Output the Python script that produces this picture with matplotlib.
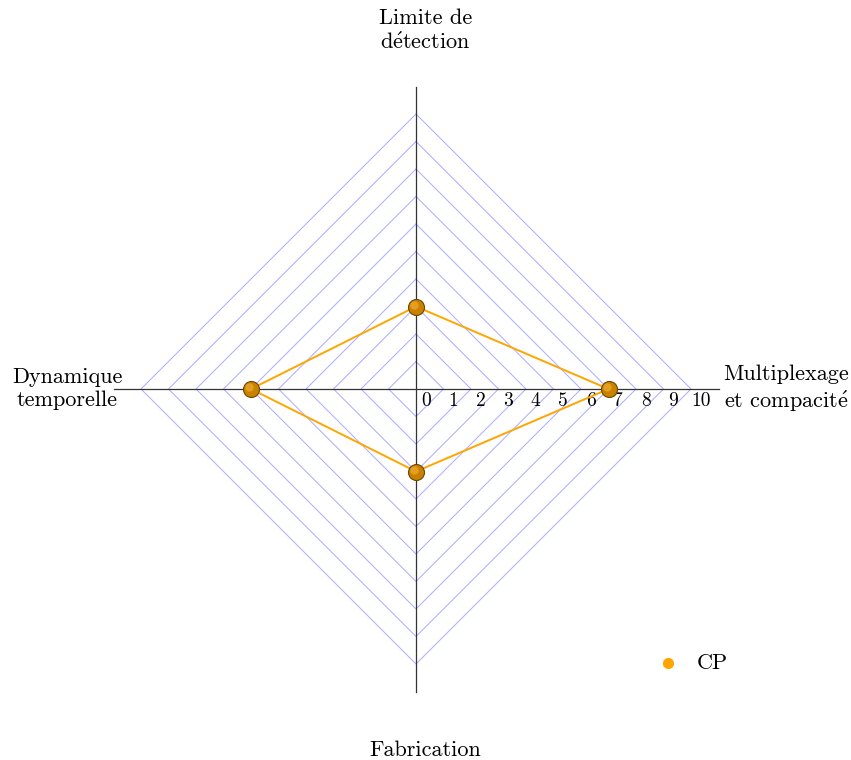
import numpy as np
import matplotlib
matplotlib.use("Agg")
from matplotlib import pyplot as plt

plt.rcParams['font.family'] = ['cmr10', 'DejaVu Serif']
plt.rcParams['mathtext.fontset'] = 'cm'

axes_labels = ["Limite de\nd$\\acute{\\mathrm{e}}$tection",
               "Multiplexage\net compacit$\\acute{\\mathrm{e}}$",
               "Fabrication",
               "Dynamique\ntemporelle"]
angles = [90, 0, 270, 180]
cp_values = [3, 7, 3, 6]
levels = list(range(1, 11))
tick_labels = [str(i) for i in range(0, 11)]

px = 27.5
fig = plt.figure(figsize=(8.51, 7.60), dpi=100)
ax = fig.add_axes([0, 0, 1, 1])
ax.set_xlim(-416 / px, (851 - 416) / px)
ax.set_ylim(-(760 - 389) / px, 389 / px)
ax.axis('off')

th = np.deg2rad(angles)

# diamond grid
for r in levels:
    xs = [r * np.cos(t) for t in th] + [r * np.cos(th[0])]
    ys = [r * np.sin(t) for t in th] + [r * np.sin(th[0])]
    ax.plot(xs, ys, color='#aaaaff', lw=0.7, zorder=1)

# axes
ax.plot([-11, 11], [0, 0], color='#333333', lw=0.9, zorder=2)
ax.plot([0, 0], [-11, 11], color='#333333', lw=0.9, zorder=2)

for i, lab in enumerate(tick_labels):
    ax.text(i + 0.35, -0.1, lab, ha='center', va='top', fontsize=14, zorder=3)

# axis titles
ax.text(0.35, (389 - 31) / px, axes_labels[0], ha='center', va='center',
        fontsize=16, linespacing=1.25)
ax.text((786 - 416) / px, 0, axes_labels[1], ha='center', va='center',
        fontsize=16, linespacing=1.25)
ax.text(0.35, -(750 - 389) / px, axes_labels[2], ha='center', va='center', fontsize=16)
ax.text((67 - 416) / px, 0, axes_labels[3], ha='center', va='center',
        fontsize=16, linespacing=1.25)

# data
xs = [v * np.cos(t) for v, t in zip(cp_values, th)]
ys = [v * np.sin(t) for v, t in zip(cp_values, th)]
ax.plot(xs + [xs[0]], ys + [ys[0]], color='#ffa500', lw=1.4, zorder=4)
ax.plot(xs, ys, 'o', ms=11.5, mfc='#c98200', mec='#6e4400', mew=0.8, zorder=5)
ax.plot(np.array(xs) - 0.07, np.array(ys) + 0.07, 'o', ms=6, mfc='#eaa52a',
        mec='none', alpha=0.85, zorder=6)

# legend
ax.plot([(668 - 416) / px], [-(663 - 389) / px], 'o', ms=7, color='#ffa500', zorder=5)
ax.text((697 - 416) / px, -(663 - 389) / px, "CP", ha='left', va='center', fontsize=16)

fig.savefig("out.png", dpi=100)
